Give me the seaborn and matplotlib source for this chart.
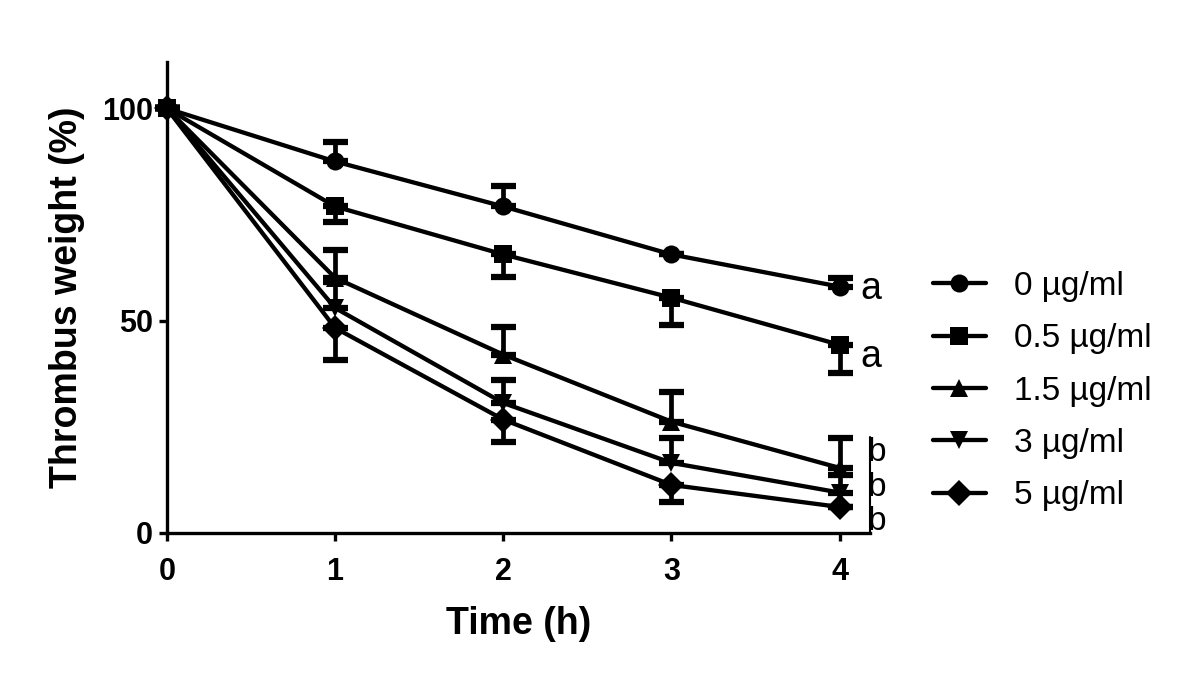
import matplotlib
matplotlib.use("Agg")
import matplotlib.pyplot as plt
from matplotlib.lines import Line2D
import pandas as pd
import seaborn as sns

# values (mean % thrombus weight, one-sided SD)
time_h = [0, 1, 2, 3, 4]
doses = ["0 µg/ml", "0.5 µg/ml", "1.5 µg/ml", "3 µg/ml", "5 µg/ml"]
weight_0 = [100, 87.5, 76.9, 65.6, 58.0]
weight_05 = [100, 76.9, 65.6, 55.4, 44.3]
weight_15 = [100, 60.1, 42.0, 26.2, 15.3]
weight_3 = [100, 53.0, 30.6, 16.5, 9.5]
weight_5 = [100, 48.3, 26.7, 11.3, 6.1]
sd_0 = [0, 4.7, 4.9, 0, 2.1]
sd_05 = [0, 3.6, 5.2, 6.4, 6.6]
sd_15 = [0, 6.6, 6.6, 7.1, 7.1]
sd_3 = [0, 6.2, 5.5, 5.9, 4.2]
sd_5 = [0, 7.5, 5.2, 4.0, 0]
err_side = ["up", "down", "up", "up", "down"]
sig_letters = ["a", "a", "b", "b", "b"]
markers = ["o", "s", "^", "v", "D"]

weights = [weight_0, weight_05, weight_15, weight_3, weight_5]
sds = [sd_0, sd_05, sd_15, sd_3, sd_5]

df = pd.concat(
    [pd.DataFrame({"time": time_h, "weight": w, "dose": d})
     for w, d in zip(weights, doses)],
    ignore_index=True,
)

sns.set_style("ticks")
plt.rcParams["font.family"] = ["Liberation Sans", "DejaVu Sans"]
for k in ["text.color", "axes.labelcolor", "xtick.color", "ytick.color", "axes.edgecolor"]:
    plt.rcParams[k] = "black"

fig = plt.figure(figsize=(12, 6.78), dpi=100)
ax = fig.add_axes([0.139, 0.214, 0.586, 0.695])

lw = 3.1
ms = 13
sns.lineplot(data=df, x="time", y="weight", hue="dose", style="dose",
             palette=["black"] * 5, markers=markers, dashes=False,
             markersize=ms, markeredgewidth=0, linewidth=lw,
             legend=False, ax=ax, clip_on=False)

for w, sd, side in zip(weights, sds, err_side):
    lower = sd if side == "down" else [0] * len(sd)
    upper = sd if side == "up" else [0] * len(sd)
    ax.errorbar(time_h, w, yerr=[lower, upper], fmt="none", ecolor="black",
                elinewidth=3.4, capsize=9, capthick=4.5, clip_on=False)

ax.set_xlim(0, 4.18)
ax.set_ylim(0, 111)
ax.set_xticks([0, 1, 2, 3, 4])
ax.set_yticks([0, 50, 100])
sns.despine(ax=ax)
for s in ["left", "bottom"]:
    ax.spines[s].set_linewidth(2.4)
ax.tick_params(direction="out", length=6, width=2.4, labelsize=22)
ax.tick_params(axis="x", pad=11)
ax.tick_params(axis="y", pad=4)
for t in ax.get_xticklabels() + ax.get_yticklabels():
    t.set_fontweight("bold")

ax.set_xlabel("Time (h)", fontsize=27, fontweight="bold", labelpad=14)
ax.set_ylabel("Thrombus weight (%)", fontsize=27, fontweight="bold", labelpad=12)

# significance letters
a_font = dict(fontsize=27, va="center", ha="left", clip_on=False)
b_font = dict(fontsize=24, va="center", ha="left", clip_on=False)
ax.text(4.12, 57.5, sig_letters[0], **a_font)
ax.text(4.12, 41.5, sig_letters[1], **a_font)
ax.text(4.17, 19.0, sig_letters[2], **b_font)
ax.text(4.17, 10.6, sig_letters[3], **b_font)
ax.text(4.17, 2.6, sig_letters[4], **b_font)
ax.plot([4.18, 4.18], [0, 22.5], color="black", lw=1.5, clip_on=False)

handles = [Line2D([], [], color="black", lw=lw, marker=m, markersize=ms,
                  markeredgewidth=0) for m in markers]
fig.legend(handles, doses, loc="upper left", bbox_to_anchor=(0.766, 0.62),
           frameon=False, handlelength=1.6, handletextpad=0.85,
           labelspacing=0.64, borderaxespad=0, fontsize=24)

fig.savefig("out.png", dpi=100)
